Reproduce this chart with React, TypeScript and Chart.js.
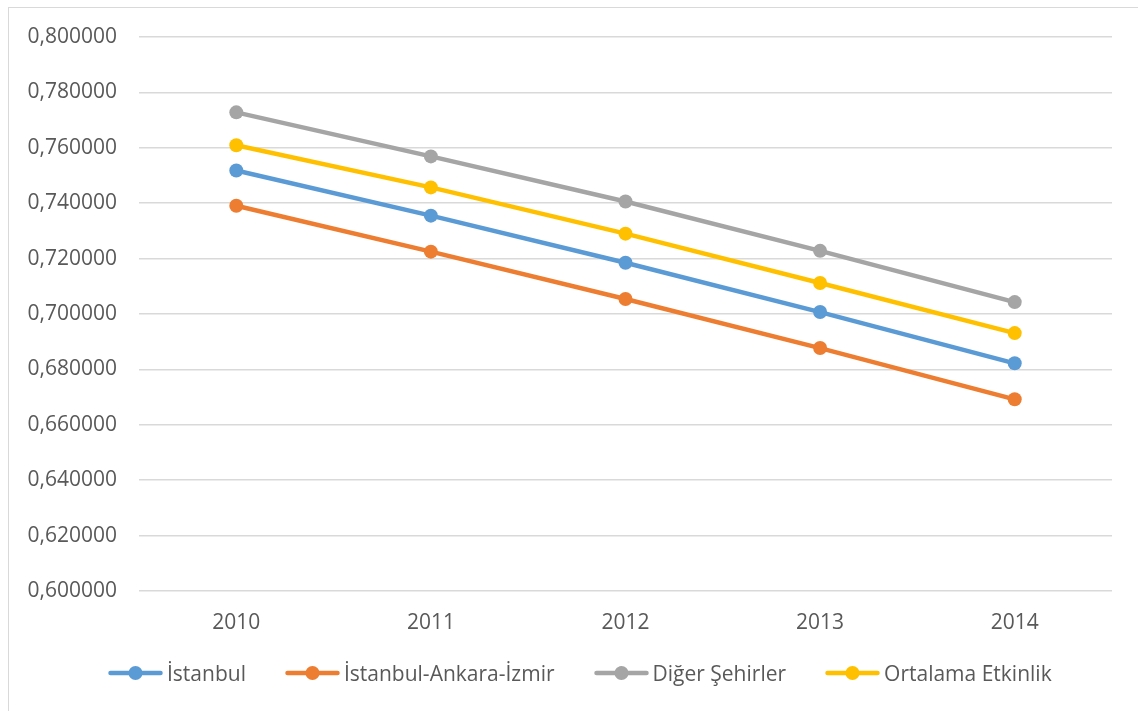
import React, { useEffect, useRef } from "react";
import { Chart, registerables } from "chart.js";

Chart.register(...registerables);

// Years on the category axis
const years = ["2010", "2011", "2012", "2013", "2014"];

// Efficiency series per city group
const istanbul = [0.7518, 0.7355, 0.7185, 0.7007, 0.6822];
const istanbulAnkaraIzmir = [0.7391, 0.7225, 0.7054, 0.6877, 0.6692];
const digerSehirler = [0.7728, 0.7569, 0.7406, 0.7228, 0.7043];
const ortalamaEtkinlik = [0.7609, 0.7457, 0.729, 0.7112, 0.6931];

const seriesNames = ["İstanbul", "İstanbul-Ankara-İzmir", "Diğer Şehirler", "Ortalama Etkinlik"];
const seriesColors = ["#5B9BD5", "#ED7D31", "#A5A5A5", "#FFC000"];

// Value axis range
const yMin = 0.6;
const yMax = 0.8;
const yStep = 0.02;

const FONT = "'Open Sans', sans-serif";
const TEXT = "#595959";
const GRID = "#d9d9d9";

function LegendMarker({ color }: { color: string }) {
  return (
    <svg width={55} height={16} style={{ display: "block" }}>
      <line x1={2.5} y1={8} x2={52.5} y2={8} stroke={color} strokeWidth={4.5} strokeLinecap="round" />
      <circle cx={27.5} cy={8} r={7} fill={color} />
    </svg>
  );
}

export default function App() {
  const canvasRef = useRef<HTMLCanvasElement | null>(null);

  useEffect(() => {
    const canvas = canvasRef.current;
    if (!canvas) return;
    const seriesData = [istanbul, istanbulAnkaraIzmir, digerSehirler, ortalamaEtkinlik];
    const chart = new Chart(canvas, {
      type: "line",
      data: {
        labels: years,
        datasets: seriesNames.map((name, i) => ({
          label: name,
          data: seriesData[i],
          borderColor: seriesColors[i],
          backgroundColor: seriesColors[i],
          borderWidth: 4.5,
          pointRadius: 7,
          pointBorderWidth: 0,
          pointBackgroundColor: seriesColors[i],
          tension: 0,
          fill: false,
        })),
      },
      options: {
        responsive: false,
        animation: false,
        devicePixelRatio: 1,
        layout: { padding: { left: 0, right: 26, top: 29, bottom: 70 } },
        plugins: {
          legend: { display: false },
          tooltip: { enabled: false },
        },
        scales: {
          x: {
            offset: true,
            grid: { display: false, drawTicks: false },
            border: { display: false },
            ticks: {
              color: TEXT,
              font: { family: FONT, size: 21 },
              padding: 19,
            },
            afterFit: (scale: any) => {
              scale.height = 50;
            },
          },
          y: {
            min: yMin,
            max: yMax,
            grid: { color: GRID, lineWidth: 1.6, drawTicks: false },
            border: { display: false },
            ticks: {
              stepSize: yStep,
              color: TEXT,
              font: { family: FONT, size: 21 },
              padding: 22,
              callback: (v: any) => Number(v).toFixed(6).replace(".", ","),
            },
            afterFit: (scale: any) => {
              scale.width = 130;
              scale.paddingTop = 0;
              scale.paddingBottom = 0;
            },
          },
        },
      },
    });
    return () => chart.destroy();
  }, []);

  return (
    <div style={{ position: "fixed", inset: 0, overflow: "hidden", background: "#fff" }}>
      <div
        style={{
          position: "absolute",
          left: 8,
          top: 7,
          width: 1150,
          height: 720,
          borderTop: `1px solid ${GRID}`,
          borderLeft: `1px solid ${GRID}`,
        }}
      />
      <canvas
        ref={canvasRef}
        width={1129}
        height={703}
        style={{ position: "absolute", left: 9, top: 8, width: 1129, height: 703 }}
      />
      <div
        style={{
          position: "absolute",
          left: 108,
          top: 659,
          height: 28,
          display: "flex",
          alignItems: "center",
          gap: 39,
          fontFamily: FONT,
          fontSize: 21,
          color: TEXT,
          whiteSpace: "nowrap",
        }}
      >
        {seriesNames.map((name, i) => (
          <div key={name} style={{ display: "flex", alignItems: "center", gap: 4 }}>
            <LegendMarker color={seriesColors[i]} />
            <span>{name}</span>
          </div>
        ))}
      </div>
    </div>
  );
}
